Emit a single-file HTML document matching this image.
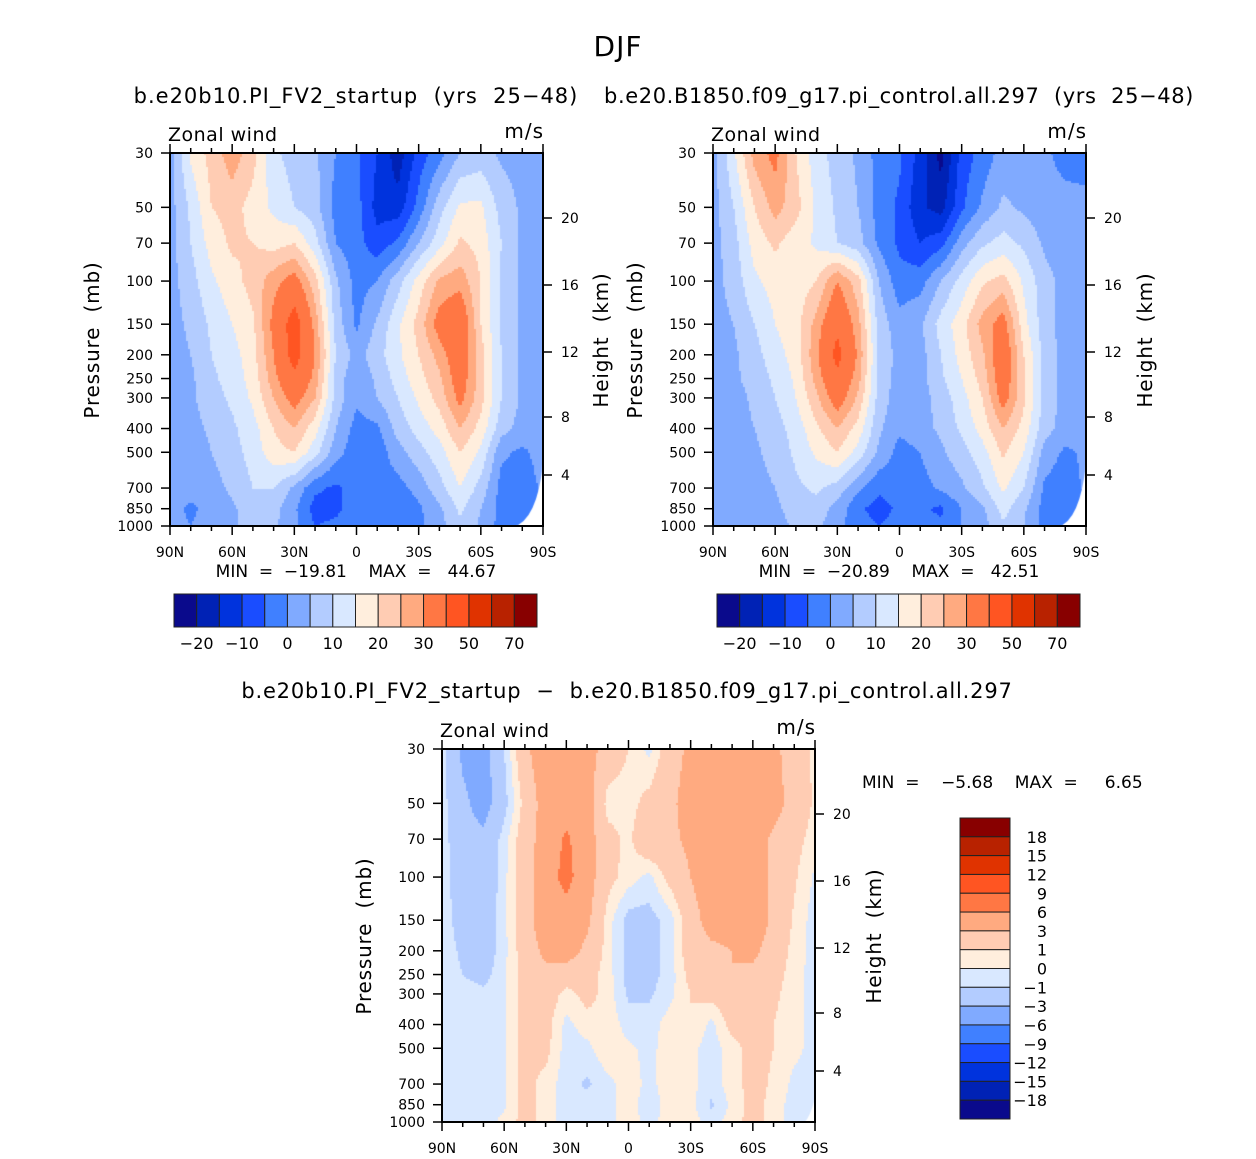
<!DOCTYPE html>
<html><head><meta charset="utf-8">
<style>
body{margin:0;background:#fff;}
#wrap{position:relative;width:1256px;height:1159px;overflow:hidden;background:#fff;font-family:"DejaVu Sans","Liberation Sans",sans-serif;}
svg text{font-family:"DejaVu Sans","Liberation Sans",sans-serif;fill:#000;white-space:pre;}
canvas{position:absolute;}
</style></head><body>
<div id="wrap">
<canvas id="c1" width="373" height="374" style="left:170px;top:153px"></canvas>
<canvas id="c2" width="373" height="374" style="left:713px;top:153px"></canvas>
<canvas id="c3" width="373" height="374" style="left:442px;top:749px"></canvas>
<svg id="s" width="1256" height="1159" style="position:absolute;left:0;top:0"></svg>
</div>
<script>
const lats=[90,80,70,60,50,40,30,20,10,0,-10,-20,-30,-40,-50,-60,-70,-80,-90];
const levels=[30,50,70,100,150,200,250,300,400,500,700,850,1000];
const u1=[
[3,16,22,28,22,11,8,6,0,-4,-10,-18,-8,-2,5,7,4,3,3],
[3,11,20,22,18,14,10,7,-2,-3,-12,-13,-3,8,16,16,8,4,3],
[3,10,17,21,20,18,20,12,0,-3,-8,-4,5,13,21,18,10,4,3],
[3,8,14,18,22,28,33,22,6,-2,0,8,17,26,28,20,9,4,3],
[3,6,11,15,19,32,45,28,8,-1,6,14,22,33,37,20,9,4,3],
[3,5,10,13,18,30,44,30,10,3,8,14,20,27,36,22,10,4,3],
[3,4,9,12,17,28,38,28,8,1,6,12,18,24,34,22,10,4,3],
[2,4,8,11,16,25,33,25,8,1,5,10,16,22,32,22,10,4,3],
[2,3,6,9,13,20,25,17,5,-2,-1,7,12,17,25,18,7,3,2],
[2,2,5,8,12,18,20,12,2,-3,-3,3,8,13,20,14,1,-1,2],
[2,2,3,6,10,10,4,-4,-6,-3,-2,-2,2,8,15,8,-2,-3,1],
[2,-1,2,4,8,7,1,-7,-6,-3,-4,-5,-1,4,11,5,-2,-3,-2],
[2,0,2,4,7,6,1,-5,-4,-2,-3,-4,-1,3,9,4,-2,-3,-3]];
const u2=[
[3,14,27,32,20,12,8,4,-2,-4,-12,-22,-8,-3,2,2,1,-2,-3],
[3,10,20,27,22,14,9,5,-2,-6,-14,-17,-6,1,6,4,2,2,2],
[3,8,17,21,17,14,10,7,-1,-6,-10,-7,3,9,12,9,4,2,2],
[3,7,14,17,17,20,30,22,5,-3,-2,5,12,19,22,14,7,3,2],
[3,5,10,15,18,27,38,27,8,2,4,12,18,27,33,17,7,3,2],
[3,4,8,13,17,29,43,29,9,3,3,10,17,24,36,20,8,3,2],
[3,4,7,11,16,27,38,27,8,3,3,9,15,22,35,21,8,3,2],
[2,3,6,10,15,24,34,24,8,2,3,7,13,20,33,21,8,3,2],
[2,3,5,8,12,19,25,18,6,1,3,6,11,17,25,18,7,3,2],
[2,2,4,7,11,16,20,13,4,-2,0,4,8,13,21,15,3,-1,1],
[2,2,3,5,9,11,8,1,-4,-3,-2,1,4,9,16,10,-1,-3,1],
[2,2,2,4,7,8,3,-4,-7,-4,-4,-6,0,4,12,6,-2,-3,-3],
[2,2,2,3,6,6,2,-3,-5,-3,-3,-4,0,3,9,5,-2,-3,-3]];
const ud=[
[-0.5,-3.5,-4,-1,2.5,4.5,4.5,4,2,1,-0.3,2,3.5,5,5,5,3.5,2,0.7],
[-0.5,-2.5,-4,-1.5,1.5,4,4.5,4,0.5,0.5,1.5,2.5,4,5,5,5,4,2,0.8],
[-0.5,-2,-2.5,-0.5,2,4,6.5,4,1.5,0.7,2.5,2.5,3.5,5,5,4.5,2.5,1.5,0.5],
[-0.5,-1.8,-2.5,-0.3,2,4.5,7,4,1.5,0.5,-0.3,1.5,3,4.5,5,4.5,2.5,1.2,-0.2],
[-0.5,-1.5,-2,-0.3,2,4.5,4.5,3.5,0.5,-1.5,-1.5,-0.5,2,4,4,4.5,2.5,0.8,-0.5],
[-0.5,-1.2,-2,-0.3,1.8,3.5,4,2.5,0.5,-1.5,-1.5,-0.5,2,2.5,3,3.5,2,0.6,-0.5],
[-0.5,-1,-1.5,-0.2,1.5,2.5,2,1.5,0.5,-1.5,-1.5,-0.5,1.5,2,3,2.5,1.5,0.5,-0.5],
[-0.5,-0.5,-0.7,-0.2,1.5,2,0.5,1.5,0.5,-1.2,-1.2,-0.3,1,1.5,2,2,1.3,0.4,-0.5],
[-0.5,-0.5,-0.5,-0.2,1.5,1.5,-0.3,0.5,0.7,-0.5,-0.5,0.5,1,-0.3,1.5,2,1,0.3,-0.4],
[-0.5,-0.5,-0.5,-0.2,1.5,1.5,-0.5,-0.3,0.8,0.2,-0.3,0.5,0.3,-0.5,0.5,1.5,1,0.3,-0.4],
[-0.5,-0.5,-0.5,-0.2,1.5,0.5,-0.5,-1.2,-0.3,0.5,-0.3,0.5,0.3,-0.5,0.5,1.5,0.8,-0.3,-0.4],
[-0.5,-0.5,-0.5,-0.2,1.5,0.5,-0.5,-0.5,-0.3,0.4,-0.5,0.4,0.4,-1.2,0.3,1.5,0.6,-0.5,-0.5],
[-0.5,-0.5,-0.5,0.3,1.5,0.5,-0.4,-0.5,-0.4,0.5,-0.4,0.5,0.5,-0.5,0.5,1.5,0.5,-0.5,-0.5]];
const windBounds=[-20,-15,-10,-5,0,5,10,15,20,25,30,40,50,60,70];
const diffBounds=[-18,-15,-12,-9,-6,-3,-1,0,1,3,6,9,12,15,18];
const windTickLabels=["\u221220","\u221210","0","10","20","30","50","70"];
const diffTickLabels=["18","15","12","9","6","3","1","0","\u22121","\u22123","\u22126","\u22129","\u221212","\u221215","\u221218"];
const latTicks=[90,60,30,0,-30,-60,-90];
const presTicks=[30,50,70,100,150,200,250,300,400,500,700,850,1000];
const heightTicks=[20,16,12,8,4];
const colors=['#0a0a8c','#0022b5','#0033dd','#1a4dff','#4080ff','#80aaff','#b3ccff','#d9e8ff','#ffeedd','#ffccb3','#ffaa80','#ff7744','#ff5522','#e03300','#b82200','#880000'];
const W=373,H=373,LP=Math.log(1000/30);
function colorFor(v,b){let i=0;while(i<b.length&&v>=b[i])i++;return colors[i];}
function sample(g,lat,p){
  let fx=(90-lat)/10, i=Math.min(Math.floor(fx),17), tx=fx-i;
  let j=0; while(j<11&&p>levels[j+1]) j++;
  let ty=Math.log(p/levels[j])/Math.log(levels[j+1]/levels[j]); ty=Math.max(0,Math.min(1,ty));
  let a=g[j][i]*(1-tx)+g[j][i+1]*tx, c=g[j+1][i]*(1-tx)+g[j+1][i+1]*tx;
  return a*(1-ty)+c*ty;
}
function fill(id,g,b,mask){
  const ctx=document.getElementById(id).getContext('2d');
  const st=2;
  for(let py=0;py<=H;py+=st){
    const p=30*Math.exp((py+st/2)/H*LP);
    for(let px=0;px<=W;px+=st){
      const lat=90-(px+st/2)/W*180;
      ctx.fillStyle=colorFor(sample(g,lat,p),b);
      ctx.fillRect(px,py,st,st);
    }
  }
  if(mask){ctx.fillStyle='#fff';ctx.beginPath();ctx.moveTo(mask[0],H+1);ctx.quadraticCurveTo(W-4,H-6,W+1,mask[1]);ctx.lineTo(W+1,H+1);ctx.closePath();ctx.fill();}
}
fill('c1',u1,windBounds,[343,300]);
fill('c2',u2,windBounds,[345,300]);
fill('c3',ud,diffBounds,[362,345]);

const S=document.getElementById('s');const NS='http://www.w3.org/2000/svg';
function el(tag,at,txt){const e=document.createElementNS(NS,tag);for(const k in at)e.setAttribute(k,at[k]);if(txt!==undefined)e.textContent=txt;S.appendChild(e);return e;}
function T(x,y,s,size,anchor,name,rot,ls){const e=el('text',{x:x,y:y,'font-size':size,'text-anchor':anchor||'middle'},s);
  if(rot)e.setAttribute('transform','rotate(-90 '+x+' '+y+')');
  if(ls)e.setAttribute('letter-spacing',ls);
  
  return e;}
function fmtLat(l){return l===0?'0':Math.abs(l)+(l>0?'N':'S');}
function axes(L,Tp,tag){
  const g=el('rect',{x:L,y:Tp,width:W,height:H,fill:'none',stroke:'#000','stroke-width':2});
  
  
  const xs=l=>L+(90-l)/180*W, ys=p=>Tp+Math.log(p/30)/LP*H;
  for(let l=90;l>=-90;l-=10){const x=xs(l),maj=l%30===0;
    el('line',{x1:x,y1:Tp+H,x2:x,y2:Tp+H+(maj?9:5),stroke:'#000','stroke-width':1.5});
    el('line',{x1:x,y1:Tp,x2:x,y2:Tp-(maj?9:5),stroke:'#000','stroke-width':1.5});}
  latTicks.forEach(l=>T(xs(l),Tp+H+31,fmtLat(l),14,'middle',tag+'-lat-label'));
  presTicks.forEach(p=>{const y=ys(p);el('line',{x1:L-9,y1:y,x2:L,y2:y,stroke:'#000','stroke-width':1.5});
    T(L-17,y+5,String(p),14,'end',tag+'-pressure-label');});
  const hOff=[65,132,199,264,322];
  heightTicks.forEach((h,k)=>{const y=Tp+hOff[k];el('line',{x1:L+W,y1:y,x2:L+W+9,y2:y,stroke:'#000','stroke-width':1.5});
    T(L+W+18,y+5,String(h),14,'start',tag+'-height-label');});
  T(L-2,Tp-12,'Zonal wind',19,'start',tag+'-variable-label',false,'0.5');
  T(L+W+1,Tp-15,'m/s',20,'end',tag+'-units-label',false,'1');
}
axes(170,153,'panel1');axes(713,153,'panel2');axes(442,749,'panel3');
T(618,56,'DJF',28,'middle','figure-title',false,'1');
T(356,103,'b.e20b10.PI_FV2_startup  (yrs  25\u221248)',21,'middle','panel1-title',false,'1');
T(899,103,'b.e20.B1850.f09_g17.pi_control.all.297  (yrs  25\u221248)',21,'middle','panel2-title',false,'0.6');
T(627,698,'b.e20b10.PI_FV2_startup  \u2212  b.e20.B1850.f09_g17.pi_control.all.297',21,'middle','panel3-title',false,'0.8');
T(99,340,'Pressure  (mb)',20,'middle','panel1-y-axis-title',true,'0.8');
T(608,340,'Height  (km)',20,'middle','panel1-y2-axis-title',true,'0.8');
T(642,340,'Pressure  (mb)',20,'middle','panel2-y-axis-title',true,'0.8');
T(1152,340,'Height  (km)',20,'middle','panel2-y2-axis-title',true,'0.8');
T(371,936,'Pressure  (mb)',20,'middle','panel3-y-axis-title',true,'0.8');
T(881,936,'Height  (km)',20,'middle','panel3-y2-axis-title',true,'0.8');
T(356,577,'MIN  =  \u221219.81    MAX  =   44.67',17,'middle','panel1-min-max');
T(899,577,'MIN  =  \u221220.89    MAX  =   42.51',17,'middle','panel2-min-max');
T(862,788,'MIN  =    \u22125.68    MAX  =     6.65',17,'start','panel3-min-max');
function hbar(L,name){const w=363/16;
  colors.forEach((c,i)=>{const r=el('rect',{x:L+i*w,y:594,width:w,height:33,fill:c,stroke:'#222','stroke-width':1});
    
    });
  windTickLabels.forEach((s,k)=>T(L+(2*k+1)*w,649,s,16,'middle',name+'-label'));}
hbar(174,'panel1-colorbar');hbar(717,'panel2-colorbar');
const vh=301/16;
colors.slice().reverse().forEach((c,i)=>{const r=el('rect',{x:960,y:818+i*vh,width:50,height:vh,fill:c,stroke:'#222','stroke-width':1});
  
  });
diffTickLabels.forEach((s,k)=>T(1047,818+(k+1)*vh+6,s,16,'end','diff-colorbar-label'));
</script>
</body></html>
